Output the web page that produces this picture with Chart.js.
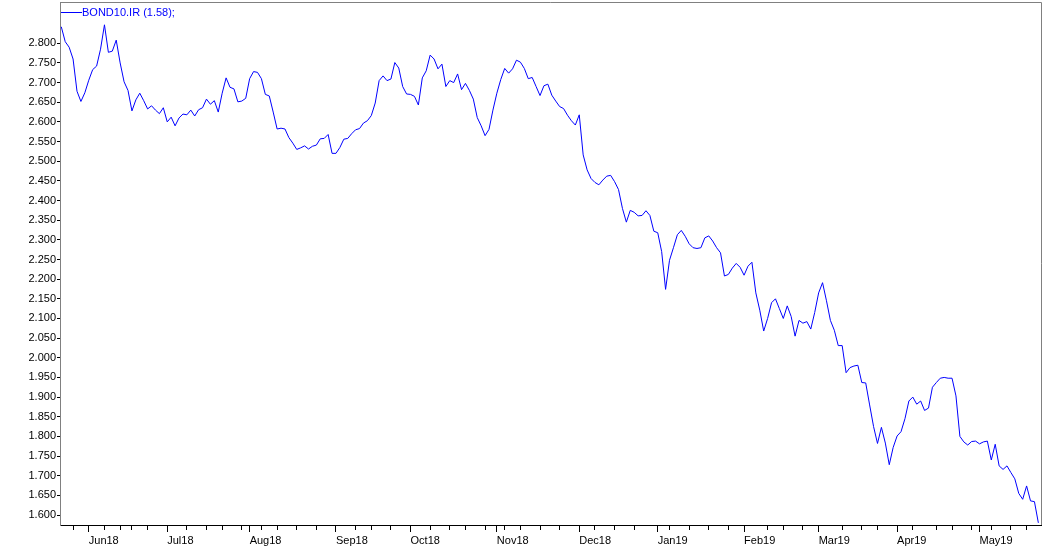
<!DOCTYPE html>
<html>
<head>
<meta charset="utf-8">
<script src="https://cdn.jsdelivr.net/npm/chart.js@4.4.0/dist/chart.umd.min.js"></script>
<style>
html, body { margin: 0; padding: 0; background: #fff; }
</style>
</head>
<body>
<canvas id="chart" width="1043" height="549"></canvas>
<script>
// one value per trading day, late May 2018 .. late May 2019
const seriesName = 'BOND10.IR';
const bondValues = [
  2.842, 2.804, 2.790, 2.760, 2.678, 2.652, 2.674, 2.706, 2.733, 2.742,
  2.785, 2.847, 2.777, 2.780, 2.808, 2.750, 2.702, 2.680, 2.628, 2.656,
  2.673, 2.654, 2.633, 2.641, 2.630, 2.621, 2.636, 2.600, 2.612, 2.590,
  2.610, 2.620, 2.618, 2.630, 2.615, 2.631, 2.636, 2.658, 2.645, 2.654,
  2.625, 2.673, 2.712, 2.688, 2.684, 2.651, 2.653, 2.660, 2.710, 2.728,
  2.726, 2.710, 2.670, 2.666, 2.625, 2.582, 2.584, 2.582, 2.560, 2.546,
  2.530, 2.534, 2.539, 2.531, 2.538, 2.541, 2.557, 2.558, 2.568, 2.520,
  2.520, 2.535, 2.556, 2.558, 2.570, 2.580, 2.583, 2.597, 2.603, 2.616,
  2.648, 2.705, 2.717, 2.705, 2.709, 2.751, 2.737, 2.690, 2.671, 2.670,
  2.665, 2.643, 2.712, 2.730, 2.770, 2.760, 2.735, 2.747, 2.690, 2.705,
  2.700, 2.722, 2.682, 2.698, 2.680, 2.658, 2.611, 2.590, 2.565, 2.581,
  2.630, 2.673, 2.708, 2.736, 2.724, 2.735, 2.757, 2.752, 2.736, 2.710,
  2.713, 2.690, 2.667, 2.692, 2.696, 2.668, 2.653, 2.639, 2.634, 2.617,
  2.603, 2.592, 2.618, 2.516, 2.478, 2.456, 2.446, 2.440, 2.452, 2.462,
  2.464, 2.448, 2.428, 2.380, 2.345, 2.375, 2.370, 2.361, 2.362, 2.374,
  2.362, 2.322, 2.318, 2.270, 2.174, 2.248, 2.280, 2.313, 2.324, 2.309,
  2.290, 2.280, 2.278, 2.280, 2.305, 2.310, 2.297, 2.280, 2.267, 2.208,
  2.212, 2.228, 2.240, 2.230, 2.210, 2.233, 2.243, 2.165, 2.121, 2.068,
  2.100, 2.140, 2.150, 2.125, 2.100, 2.132, 2.105, 2.055, 2.095, 2.088,
  2.092, 2.073, 2.115, 2.165, 2.191, 2.145, 2.095, 2.070, 2.031, 2.031,
  1.962, 1.975, 1.979, 1.981, 1.937, 1.936, 1.880, 1.825, 1.782, 1.823,
  1.783, 1.728, 1.772, 1.801, 1.812, 1.845, 1.890, 1.900, 1.882, 1.890,
  1.866, 1.872, 1.925, 1.937, 1.948, 1.950, 1.948, 1.948, 1.903, 1.800,
  1.786, 1.778, 1.787, 1.788, 1.781, 1.786, 1.788, 1.740, 1.780, 1.725,
  1.716, 1.725, 1.708, 1.692, 1.655, 1.640, 1.674, 1.636, 1.634, 1.580
];
const monthLabels = ['Jun18', 'Jul18', 'Aug18', 'Sep18', 'Oct18', 'Nov18',
  'Dec18', 'Jan19', 'Feb19', 'Mar19', 'Apr19', 'May19'];
// index of first trading day of each month
const monthIndex = [7, 27, 48, 70, 89, 111, 132, 152, 174, 193, 213, 234];
// small ticks, one per week
const weekIndex = [3, 11, 15, 18, 22, 32, 37, 41, 46, 51, 55, 60, 65, 75, 79, 84,
  94, 99, 103, 108, 113, 117, 122, 127, 136, 141, 146, 155, 160, 165, 170, 180,
  184, 189, 199, 204, 208, 217, 223, 227, 232, 237, 242, 246];
const yTickValues = [1.60, 1.65, 1.70, 1.75, 1.80, 1.85, 1.90, 1.95, 2.00, 2.05,
  2.10, 2.15, 2.20, 2.25, 2.30, 2.35, 2.40, 2.45, 2.50, 2.55, 2.60, 2.65, 2.70,
  2.75, 2.80];

const lastValue = bondValues[bondValues.length - 1];

Chart.defaults.font.family = '"Liberation Sans", Arial, sans-serif';
Chart.defaults.font.size = 11;
Chart.defaults.color = '#000';

// legend line + frame like the original terminal chart
const framePlugin = {
  id: 'framePlugin',
  afterDraw(chart) {
    const ctx = chart.ctx;
    const a = chart.chartArea;
    ctx.save();
    ctx.strokeStyle = '#808080';
    ctx.lineWidth = 1;
    ctx.beginPath();
    ctx.moveTo(a.left, a.top + 0.5);
    ctx.lineTo(a.right + 0.5, a.top + 0.5);
    ctx.lineTo(a.right + 0.5, a.bottom);
    ctx.stroke();

    ctx.strokeStyle = '#0000ff';
    ctx.beginPath();
    ctx.moveTo(a.left + 1, 12.5);
    ctx.lineTo(a.left + 22, 12.5);
    ctx.stroke();
    ctx.fillStyle = '#0000ff';
    ctx.font = '11px "Liberation Sans", Arial, sans-serif';
    ctx.textBaseline = 'middle';
    ctx.fillText(seriesName + ' (' + lastValue.toFixed(2) + ');', a.left + 22, 13);
    ctx.restore();
  }
};

const data = {
  datasets: [{
    label: seriesName,
    data: bondValues.map((v, i) => ({ x: i, y: v })),
    borderColor: '#0000ff',
    borderWidth: 1,
    pointRadius: 0,
    tension: 0,
    fill: false
  }]
};

const config = {
  type: 'line',
  data: data,
  options: {
    responsive: false,
    animation: false,
    devicePixelRatio: 1,
    layout: { padding: { top: 2, right: 2, left: 0, bottom: 0 } },
    plugins: { legend: { display: false }, tooltip: { enabled: false } },
    scales: {
      x: {
        type: 'linear',
        min: -0.33,
        max: 249.67,
        afterBuildTicks: s => {
          s.ticks = monthIndex.concat(weekIndex).sort((a, b) => a - b).map(v => ({ value: v }));
        },
        afterFit: s => {
          s.height = 24;
          s.paddingLeft = 0;
          s.paddingRight = 0;
        },
        ticks: {
          autoSkip: false,
          maxRotation: 0,
          align: 'start',
          padding: 2,
          callback: v => {
            const k = monthIndex.indexOf(v);
            return k >= 0 ? monthLabels[k] : '';
          }
        },
        grid: {
          drawOnChartArea: false,
          drawTicks: true,
          tickLength: 7,
          tickColor: '#000',
          tickBorderDash: c => (c.tick && monthIndex.indexOf(c.tick.value) >= 0) ? [] : [4, 20]
        },
        border: { color: '#000' }
      },
      y: {
        type: 'linear',
        min: 1.5746,
        max: 2.905,
        afterBuildTicks: s => {
          s.ticks = yTickValues.map(v => ({ value: v }));
        },
        afterFit: s => {
          s.width = 60;
          s.paddingTop = 0;
          s.paddingBottom = 0;
        },
        ticks: {
          padding: 1,
          callback: v => v.toFixed(3)
        },
        grid: {
          drawOnChartArea: false,
          drawTicks: true,
          tickLength: 3,
          tickColor: '#000'
        },
        border: { color: '#808080' }
      }
    }
  },
  plugins: [framePlugin]
};

let ctx = document.getElementById('chart').getContext('2d');
new Chart(ctx, config);
</script>
</body>
</html>
